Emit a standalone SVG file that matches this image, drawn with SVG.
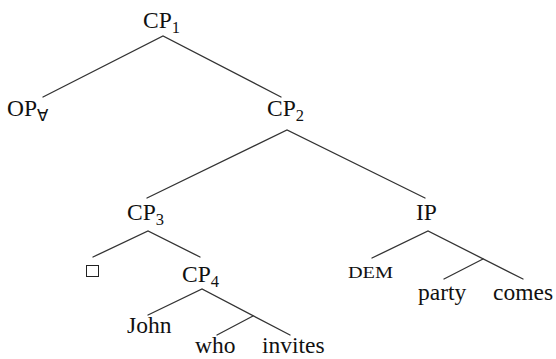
<svg xmlns="http://www.w3.org/2000/svg" width="556" height="359" viewBox="0 0 556 359">
  <style>
    .lbl { font-family: "Liberation Serif", "Times New Roman", serif; font-size: 23.5px; fill: #111; }
    .sub { font-size: 16.5px; }
    .sc { font-family: "Liberation Serif", "Times New Roman", serif; font-size: 16px; fill: #111; }
    .edge { stroke: #333; stroke-width: 1.3; fill: none; stroke-linecap: round; }
  </style>
  <rect width="556" height="359" fill="#fff"/>

  <!-- tree branches -->
  <g id="edges">
    <polyline class="edge" points="43,97 163,36 281,97"/>
    <polyline class="edge" points="147,198 287,130 425,198"/>
    <polyline class="edge" points="93,257 148,231 200,257"/>
    <polyline class="edge" points="148,315 202,289 290,335"/>
    <line class="edge" x1="253" y1="316" x2="217" y2="335"/>
    <polyline class="edge" points="372,258 428,231 523,279"/>
    <line class="edge" x1="483" y1="259" x2="444" y2="279"/>
  </g>

  <g id="cp1"><text class="lbl" x="143" y="28">CP<tspan class="sub" dy="5">1</tspan></text></g>
  <g id="op"><text class="lbl" x="7" y="116">OP<tspan class="sub" dy="5" font-family="DejaVu Sans, sans-serif" font-size="13">∀</tspan></text></g>
  <g id="cp2"><text class="lbl" x="267" y="116">CP<tspan class="sub" dy="5">2</tspan></text></g>
  <g id="cp3"><text class="lbl" x="127" y="220">CP<tspan class="sub" dy="5">3</tspan></text></g>
  <g id="ip"><text class="lbl" x="416" y="220">IP</text></g>
  <g id="empty"><rect x="86.5" y="265.5" width="12" height="11" fill="none" stroke="#222" stroke-width="1"/></g>
  <g id="cp4"><text class="lbl" x="182" y="282">CP<tspan class="sub" dy="5">4</tspan></text></g>
  <g id="dem"><text class="sc" x="348" y="278" textLength="45" lengthAdjust="spacingAndGlyphs">DEM</text></g>
  <g id="john"><text class="lbl" x="127" y="333">John</text></g>
  <g id="who"><text class="lbl" x="195" y="353">who</text></g>
  <g id="invites"><text class="lbl" x="262" y="353">invites</text></g>
  <g id="party"><text class="lbl" x="418" y="300">party</text></g>
  <g id="comes"><text class="lbl" x="493" y="300">comes</text></g>
</svg>
